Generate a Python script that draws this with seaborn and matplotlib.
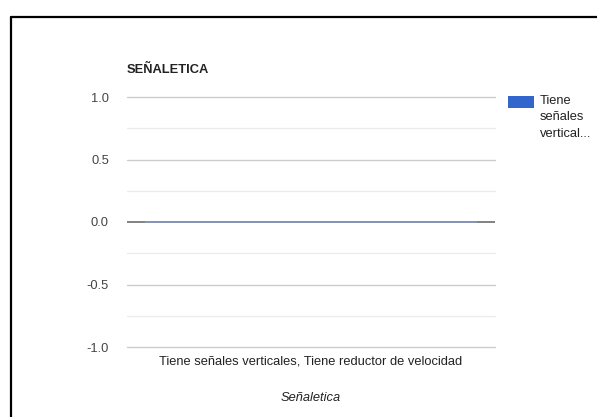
import matplotlib
matplotlib.use("Agg")
import matplotlib.pyplot as plt
from matplotlib.lines import Line2D
from matplotlib.patches import Rectangle
import seaborn as sns
import pandas as pd

categories = ["Tiene señales verticales, Tiene reductor de velocidad"]
values = [0]
series_label = "Tiene\nseñales\nvertical..."
title = "SEÑALETICA"
x_title = "Señaletica"
y_ticks = [-1.0, -0.5, 0.0, 0.5, 1.0]
y_minor = [-0.75, -0.25, 0.25, 0.75]

sns.set_theme(style="white")
plt.rcParams['font.family'] = ['Liberation Sans', 'DejaVu Sans']

df = pd.DataFrame({"cat": categories, "val": values})

fig = plt.figure(figsize=(5.97, 4.17), dpi=100)
ax = fig.add_axes([127/597, 1-347/417, 368/597, 250/417])

for y in y_minor:
    ax.axhline(y, color="#ebebeb", lw=1, zorder=0, clip_on=False)
for y in y_ticks:
    if y != 0:
        ax.axhline(y, color="#cccccc", lw=1, zorder=0, clip_on=False)
ax.axhline(0, color="#777777", lw=1.3, zorder=1)

sns.barplot(data=df, x="cat", y="val", color="#3366cc", width=0.9,
            edgecolor="#8797bd", linewidth=1.3, ax=ax, zorder=2)

fs = 9.3
ax.set_ylim(-1.0, 1.0)
ax.set_xlim(-0.5, 0.5)
ax.set_yticks(y_ticks)
ax.set_yticklabels([f"{v:.1f}" for v in y_ticks], color="#444444", fontsize=fs)
ax.tick_params(axis="y", length=0, pad=13)
ax.tick_params(axis="x", length=0, pad=6, labelsize=fs, labelcolor="#222222")
for s in ax.spines.values():
    s.set_visible(False)
ax.set_ylabel("")
ax.set_xlabel(x_title, fontstyle="italic", fontsize=fs, color="#222222", labelpad=18)

fig.text(127/597, 1-70/417, title, fontsize=fs, fontweight="bold", color="#222222", va="center", ha="left")

# legend
fig.add_artist(Rectangle((508/597, 1-108/417), 26/597, 12/417, transform=fig.transFigure,
                         facecolor="#3366cc", edgecolor="none"))
fig.text(540/597, 1-95/417, series_label, fontsize=fs, color="#222222", va="top", ha="left", linespacing=1.5)

# frame from screenshot
fig.add_artist(Line2D([11/597, 1], [1-17/417, 1-17/417], transform=fig.transFigure, color="black", lw=1.6))
fig.add_artist(Line2D([11/597, 11/597], [0, 1-17/417], transform=fig.transFigure, color="black", lw=1.6))

fig.savefig("out.png", dpi=100)
